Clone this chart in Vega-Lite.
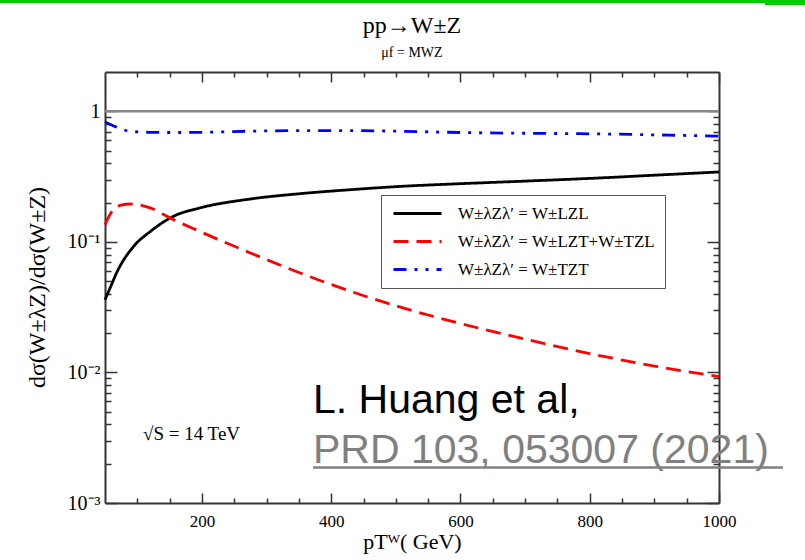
{
  "$schema": "https://vega.github.io/schema/vega-lite/v6.json",
  "width": 614,
  "height": 431,
  "autosize": {"type": "none"},
  "padding": {"left": 105, "top": 72, "right": 86, "bottom": 57},
  "background": "white",
  "title": {
    "text": "pp→W±Z",
    "subtitle": "μf = MWZ",
    "font": "Liberation Serif",
    "fontSize": 24,
    "fontWeight": "normal",
    "color": "black",
    "subtitleFont": "Liberation Serif",
    "subtitleFontSize": 14,
    "subtitleColor": "black",
    "subtitlePadding": 8,
    "anchor": "middle",
    "frame": "group",
    "offset": -60
  },
  "config": {
    "view": {"stroke": null},
    "font": "Liberation Serif",
    "axis": {
      "grid": false,
      "domainColor": "#333333",
      "domainWidth": 2,
      "tickColor": "#333333",
      "tickWidth": 1.5,
      "labelFont": "Liberation Serif",
      "titleFont": "Liberation Serif",
      "labelColor": "black",
      "titleColor": "black",
      "titleFontWeight": "normal",
      "labelFlush": false,
      "labelOverlap": false
    },
    "legend": {
      "orient": "none",
      "legendX": 276,
      "legendY": 123,
      "strokeColor": "#555555",
      "fillColor": "white",
      "padding": 10,
      "rowPadding": 10,
      "labelFont": "Liberation Serif",
      "labelFontSize": 17,
      "labelColor": "black",
      "labelLimit": 400,
      "symbolType": "M-1,0H7",
      "symbolSize": 144,
      "symbolStrokeWidth": 3,
      "labelOffset": 50
    }
  },
  "datasets": {
    "curves": [
      {"pT": 50, "ratio": 0.036, "pol": "W±λZλʹ = W±LZL"},
      {"pT": 59, "ratio": 0.0457, "pol": "W±λZλʹ = W±LZL"},
      {"pT": 68, "ratio": 0.058, "pol": "W±λZλʹ = W±LZL"},
      {"pT": 94, "ratio": 0.092, "pol": "W±λZλʹ = W±LZL"},
      {"pT": 120, "ratio": 0.12, "pol": "W±λZλʹ = W±LZL"},
      {"pT": 156, "ratio": 0.157, "pol": "W±λZλʹ = W±LZL"},
      {"pT": 197, "ratio": 0.182, "pol": "W±λZλʹ = W±LZL"},
      {"pT": 275, "ratio": 0.213, "pol": "W±λZλʹ = W±LZL"},
      {"pT": 352, "ratio": 0.234, "pol": "W±λZλʹ = W±LZL"},
      {"pT": 430, "ratio": 0.251, "pol": "W±λZλʹ = W±LZL"},
      {"pT": 507, "ratio": 0.266, "pol": "W±λZλʹ = W±LZL"},
      {"pT": 600, "ratio": 0.279, "pol": "W±λZλʹ = W±LZL"},
      {"pT": 700, "ratio": 0.292, "pol": "W±λZλʹ = W±LZL"},
      {"pT": 817, "ratio": 0.309, "pol": "W±λZλʹ = W±LZL"},
      {"pT": 900, "ratio": 0.324, "pol": "W±λZλʹ = W±LZL"},
      {"pT": 1000, "ratio": 0.343, "pol": "W±λZλʹ = W±LZL"},
      {"pT": 50, "ratio": 0.1355, "pol": "W±λZλʹ = W±LZT+W±TZL"},
      {"pT": 63, "ratio": 0.177, "pol": "W±λZλʹ = W±LZT+W±TZL"},
      {"pT": 75, "ratio": 0.191, "pol": "W±λZλʹ = W±LZT+W±TZL"},
      {"pT": 89, "ratio": 0.195, "pol": "W±λZλʹ = W±LZT+W±TZL"},
      {"pT": 100, "ratio": 0.193, "pol": "W±λZλʹ = W±LZT+W±TZL"},
      {"pT": 120, "ratio": 0.182, "pol": "W±λZλʹ = W±LZT+W±TZL"},
      {"pT": 151, "ratio": 0.152, "pol": "W±λZλʹ = W±LZT+W±TZL"},
      {"pT": 197, "ratio": 0.12, "pol": "W±λZλʹ = W±LZT+W±TZL"},
      {"pT": 275, "ratio": 0.0822, "pol": "W±λZλʹ = W±LZT+W±TZL"},
      {"pT": 352, "ratio": 0.0578, "pol": "W±λZλʹ = W±LZT+W±TZL"},
      {"pT": 430, "ratio": 0.0418, "pol": "W±λZλʹ = W±LZT+W±TZL"},
      {"pT": 500, "ratio": 0.0324, "pol": "W±λZλʹ = W±LZT+W±TZL"},
      {"pT": 600, "ratio": 0.0237, "pol": "W±λZλʹ = W±LZT+W±TZL"},
      {"pT": 700, "ratio": 0.018, "pol": "W±λZλʹ = W±LZT+W±TZL"},
      {"pT": 800, "ratio": 0.01396, "pol": "W±λZλʹ = W±LZT+W±TZL"},
      {"pT": 900, "ratio": 0.0112, "pol": "W±λZλʹ = W±LZT+W±TZL"},
      {"pT": 1000, "ratio": 0.0093, "pol": "W±λZλʹ = W±LZT+W±TZL"},
      {"pT": 50, "ratio": 0.83, "pol": "W±λZλʹ = W±TZT"},
      {"pT": 60, "ratio": 0.785, "pol": "W±λZλʹ = W±TZT"},
      {"pT": 68, "ratio": 0.757, "pol": "W±λZλʹ = W±TZT"},
      {"pT": 89, "ratio": 0.703, "pol": "W±λZλʹ = W±TZT"},
      {"pT": 120, "ratio": 0.69, "pol": "W±λZλʹ = W±TZT"},
      {"pT": 160, "ratio": 0.688, "pol": "W±λZλʹ = W±TZT"},
      {"pT": 197, "ratio": 0.69, "pol": "W±λZλʹ = W±TZT"},
      {"pT": 275, "ratio": 0.705, "pol": "W±λZλʹ = W±TZT"},
      {"pT": 352, "ratio": 0.711, "pol": "W±λZλʹ = W±TZT"},
      {"pT": 430, "ratio": 0.711, "pol": "W±λZλʹ = W±TZT"},
      {"pT": 496, "ratio": 0.705, "pol": "W±λZλʹ = W±TZT"},
      {"pT": 600, "ratio": 0.688, "pol": "W±λZλʹ = W±TZT"},
      {"pT": 700, "ratio": 0.679, "pol": "W±λZλʹ = W±TZT"},
      {"pT": 817, "ratio": 0.671, "pol": "W±λZλʹ = W±TZT"},
      {"pT": 900, "ratio": 0.66, "pol": "W±λZλʹ = W±TZT"},
      {"pT": 1000, "ratio": 0.645, "pol": "W±λZλʹ = W±TZT"}
    ]
  },
  "resolve": {"axis": {"x": "independent", "y": "independent"}},
  "layer": [
    {
      "data": {"values": [{}]},
      "mark": {"type": "rule", "color": "#888888", "strokeWidth": 2.5},
      "encoding": {
        "y": {"datum": 1, "type": "quantitative", "scale": {"type": "log", "domain": [0.001, 2], "nice": false}, "axis": null}
      }
    },
    {
      "data": {"name": "curves"},
      "mark": {"type": "line", "interpolate": "monotone", "strokeWidth": 2.8},
      "encoding": {
        "x": {
          "field": "pT", "type": "quantitative",
          "scale": {"domain": [50, 1000], "nice": false},
          "axis": {
            "orient": "bottom",
            "values": [200, 400, 600, 800, 1000],
            "format": "d",
            "tickSize": -10,
            "labelFontSize": 17,
            "labelPadding": 20,
            "title": "pTᵂ( GeV)",
            "titleFontSize": 22,
            "titleX": 307,
            "titleY": 45,
            "titleBaseline": "alphabetic"
          }
        },
        "y": {
          "field": "ratio", "type": "quantitative",
          "scale": {"type": "log", "domain": [0.001, 2], "nice": false},
          "axis": {
            "orient": "left",
            "values": [0.001, 0.01, 0.1, 1],
            "labelExpr": "datum.value == 1 ? '1' : datum.value == 0.1 ? '10⁻¹' : datum.value == 0.01 ? '10⁻²' : '10⁻³'",
            "tickSize": -12,
            "labelFontSize": 20,
            "labelPadding": 17,
            "title": "dσ(W±λZ)/dσ(W±Z)",
            "titleFontSize": 24,
            "titleX": -68,
            "titleY": 215,
            "titleBaseline": "middle"
          }
        },
        "color": {
          "field": "pol", "type": "nominal",
          "scale": {"domain": ["W±λZλʹ = W±LZL", "W±λZλʹ = W±LZT+W±TZL", "W±λZλʹ = W±TZT"], "range": ["#000000", "#ff0000", "#0000ff"]},
          "legend": {"title": null}
        },
        "strokeDash": {
          "field": "pol", "type": "nominal",
          "scale": {"domain": ["W±λZλʹ = W±LZL", "W±λZλʹ = W±LZT+W±TZL", "W±λZλʹ = W±TZT"], "range": [[1, 0], [15, 8], [13, 8, 3, 8, 3, 8]]},
          "legend": {"title": null}
        }
      }
    },
    {
      "data": {"values": [{}]},
      "mark": {"type": "text", "font": "Liberation Serif", "fontSize": 19, "align": "left", "baseline": "alphabetic", "color": "black"},
      "encoding": {
        "x": {
          "datum": 108.8, "type": "quantitative",
          "scale": {"domain": [50, 1000], "nice": false},
          "axis": {"orient": "top", "values": [200, 400, 600, 800, 1000], "labels": false, "tickSize": -10, "title": null}
        },
        "y": {
          "datum": 0.003039, "type": "quantitative",
          "scale": {"type": "log", "domain": [0.001, 2], "nice": false},
          "axis": {"orient": "right", "values": [0.001, 0.01, 0.1, 1], "labels": false, "tickSize": -12, "title": null}
        },
        "text": {"value": "√S = 14 TeV"}
      }
    },
    {
      "data": {"values": [{}]},
      "mark": {"type": "text", "font": "Liberation Sans", "fontSize": 41, "align": "left", "baseline": "alphabetic", "color": "black"},
      "encoding": {
        "x": {
          "datum": 371.8, "type": "quantitative", "scale": {"domain": [50, 1000], "nice": false},
          "axis": {"orient": "bottom", "values": [100, 150, 250, 300, 350, 450, 500, 550, 650, 700, 750, 850, 900, 950], "labels": false, "domain": false, "tickSize": -5, "title": null}
        },
        "y": {
          "datum": 0.004892, "type": "quantitative", "scale": {"type": "log", "domain": [0.001, 2], "nice": false},
          "axis": {"orient": "left", "values": [0.002, 0.003, 0.004, 0.005, 0.006, 0.007, 0.008, 0.009, 0.02, 0.03, 0.04, 0.05, 0.06, 0.07, 0.08, 0.09, 0.2, 0.3, 0.4, 0.5, 0.6, 0.7, 0.8, 0.9], "labels": false, "domain": false, "tickSize": -6, "title": null}
        },
        "text": {"value": "L. Huang et al,"}
      }
    },
    {
      "data": {"values": [{}]},
      "mark": {"type": "text", "font": "Liberation Sans", "fontSize": 41, "align": "left", "baseline": "alphabetic", "color": "#808080"},
      "encoding": {
        "x": {
          "datum": 371.8, "type": "quantitative", "scale": {"domain": [50, 1000], "nice": false},
          "axis": {"orient": "top", "values": [100, 150, 250, 300, 350, 450, 500, 550, 650, 700, 750, 850, 900, 950], "labels": false, "domain": false, "tickSize": -5, "title": null}
        },
        "y": {
          "datum": 0.002025, "type": "quantitative", "scale": {"type": "log", "domain": [0.001, 2], "nice": false},
          "axis": {"orient": "right", "values": [0.002, 0.003, 0.004, 0.005, 0.006, 0.007, 0.008, 0.009, 0.02, 0.03, 0.04, 0.05, 0.06, 0.07, 0.08, 0.09, 0.2, 0.3, 0.4, 0.5, 0.6, 0.7, 0.8, 0.9], "labels": false, "domain": false, "tickSize": -6, "title": null}
        },
        "text": {"value": "PRD 103, 053007 (2021)"}
      }
    },
    {
      "data": {"values": [{}]},
      "mark": {"type": "rule", "color": "#808080", "strokeWidth": 2.5},
      "encoding": {
        "x": {"datum": 371.8, "type": "quantitative", "scale": {"domain": [50, 1000], "nice": false}, "axis": null},
        "x2": {"datum": 1099},
        "y": {"datum": 0.001871, "type": "quantitative", "scale": {"type": "log", "domain": [0.001, 2], "nice": false}, "axis": null}
      }
    },
    {
      "data": {"values": [{}]},
      "mark": {"type": "rule", "color": "#00cc00", "strokeWidth": 3},
      "encoding": {
        "x": {"datum": -112.5, "type": "quantitative", "scale": {"domain": [50, 1000], "nice": false}, "axis": null},
        "x2": {"datum": 1071},
        "y": {"datum": 6.934, "type": "quantitative", "scale": {"type": "log", "domain": [0.001, 2], "nice": false}, "axis": null}
      }
    },
    {
      "data": {"values": [{}]},
      "mark": {"type": "rule", "color": "#00cc00", "strokeWidth": 5},
      "encoding": {
        "x": {"datum": 1071, "type": "quantitative", "scale": {"domain": [50, 1000], "nice": false}, "axis": null},
        "x2": {"datum": 1134},
        "y": {"datum": 6.81, "type": "quantitative", "scale": {"type": "log", "domain": [0.001, 2], "nice": false}, "axis": null}
      }
    }
  ]
}
